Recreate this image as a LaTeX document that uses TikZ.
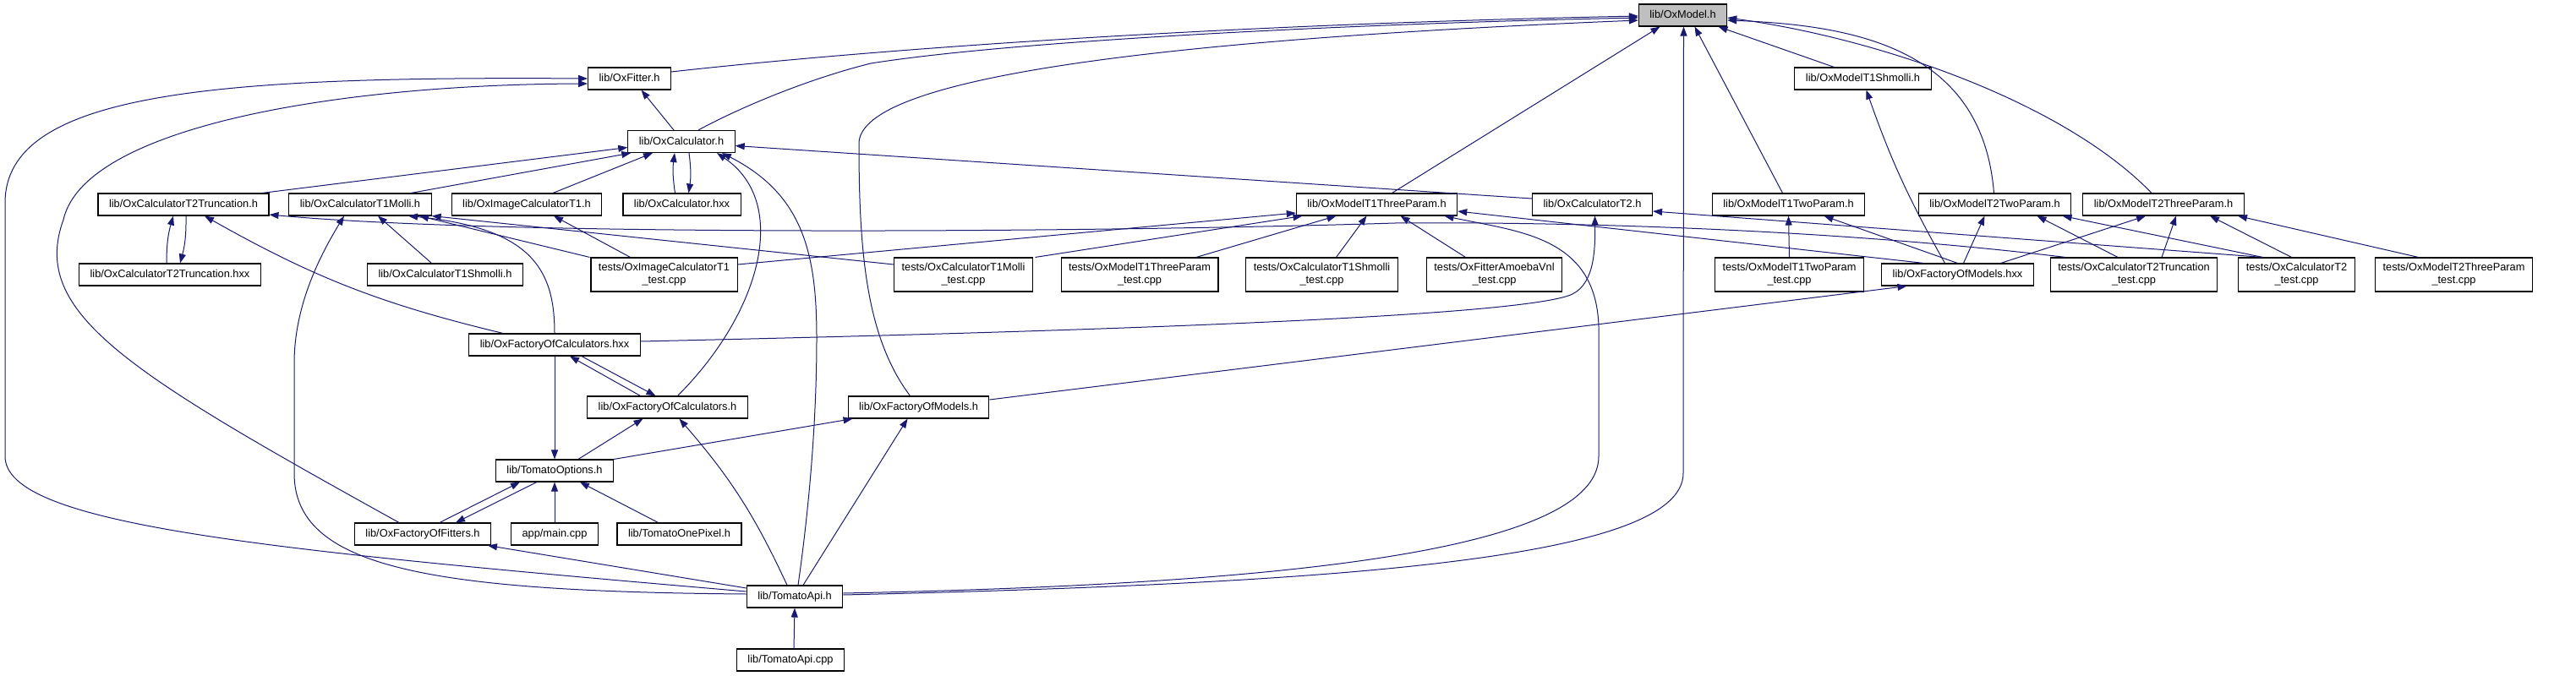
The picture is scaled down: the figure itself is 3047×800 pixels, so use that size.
\documentclass[tikz,border=0pt]{standalone}
\usepackage{fontspec}
\setmainfont{Liberation Sans}
\usetikzlibrary{arrows.meta}
\definecolor{edgeblue}{RGB}{25,25,112}
\definecolor{curgray}{RGB}{191,191,191}
\tikzset{
  filenode/.style={rectangle, draw=black, fill=white, line width=1.1pt,
    font=\fontsize{12.8}{15}\selectfont, inner xsep=13pt, inner ysep=2pt,
    minimum height=26pt, text height=9.6pt, text depth=2.6pt},
  curnode/.style={filenode, fill=curgray},
  testnode/.style={rectangle, draw=black, fill=white, line width=1.1pt,
    font=\fontsize{12.8}{15}\selectfont, align=center, inner xsep=9pt,
    inner ysep=2pt, minimum height=40pt},
  arrow/.style={-{Triangle[length=11pt,width=8pt]}, line width=1pt, color=edgeblue}
}

\begin{document}
\begin{tikzpicture}[x=1pt, y=-1pt]
  \useasboundingbox (0,0) rectangle (3047,800);
  % headers
  \node[curnode] (model) at (1990.5,18) {lib/OxModel.h};
  \node[filenode] (fitter) at (744.5,93) {lib/OxFitter.h};
  \node[filenode] (mshm) at (2203.5,93) {lib/OxModelT1Shmolli.h};
  \node[filenode] (calc) at (806,167.5) {lib/OxCalculator.h};
  \node[filenode] (ct2tr) at (217,242) {lib/OxCalculatorT2Truncation.h};
  \node[filenode] (ct1mo) at (426,242) {lib/OxCalculatorT1Molli.h};
  \node[filenode] (imgc) at (623,242) {lib/OxImageCalculatorT1.h};
  \node[filenode] (calchxx) at (806.5,242) {lib/OxCalculator.hxx};
  \node[filenode] (m1three) at (1628.5,242) {lib/OxModelT1ThreeParam.h};
  \node[filenode] (ct2) at (1883.5,242) {lib/OxCalculatorT2.h};
  \node[filenode] (m1two) at (2115.5,242) {lib/OxModelT1TwoParam.h};
  \node[filenode] (m2two) at (2359.5,242) {lib/OxModelT2TwoParam.h};
  \node[filenode] (m2three) at (2559,242) {lib/OxModelT2ThreeParam.h};
  \node[filenode] (ct2trhxx) at (201,325) {lib/OxCalculatorT2Truncation.hxx};
  \node[filenode] (ct1sh) at (526.5,325) {lib/OxCalculatorT1Shmolli.h};
  \node[filenode] (fmodhxx) at (2315.5,325) {lib/OxFactoryOfModels.hxx};
  % tests
  \node[testnode] (timgc) at (785.5,325) {tests/OxImageCalculatorT1\\\_test.cpp};
  \node[testnode] (tct1mo) at (1139.5,325) {tests/OxCalculatorT1Molli\\\_test.cpp};
  \node[testnode] (tm1three) at (1348,325) {tests/OxModelT1ThreeParam\\\_test.cpp};
  \node[testnode] (tct1sh) at (1563.5,325) {tests/OxCalculatorT1Shmolli\\\_test.cpp};
  \node[testnode] (tamoeba) at (1767.5,325) {tests/OxFitterAmoebaVnl\\\_test.cpp};
  \node[testnode] (tm1two) at (2116.5,325) {tests/OxModelT1TwoParam\\\_test.cpp};
  \node[testnode] (tct2tr) at (2524,325) {tests/OxCalculatorT2Truncation\\\_test.cpp};
  \node[testnode] (tct2) at (2716.5,325) {tests/OxCalculatorT2\\\_test.cpp};
  \node[testnode] (tm2three) at (2902.5,325) {tests/OxModelT2ThreeParam\\\_test.cpp};
  % factories and api
  \node[filenode] (fcalchxx) at (656,408) {lib/OxFactoryOfCalculators.hxx};
  \node[filenode] (fcalch) at (789.5,482) {lib/OxFactoryOfCalculators.h};
  \node[filenode] (fmodh) at (1086.5,482) {lib/OxFactoryOfModels.h};
  \node[filenode] (options) at (656,557) {lib/TomatoOptions.h};
  \node[filenode] (ffit) at (500,632) {lib/OxFactoryOfFitters.h};
  \node[filenode] (mainc) at (656,632) {app/main.cpp};
  \node[filenode] (onepix) at (803.5,632) {lib/TomatoOnePixel.h};
  \node[filenode] (api) at (940,706) {lib/TomatoApi.h};
  \node[filenode] (apicpp) at (935,781) {lib/TomatoApi.cpp};

  % into lib/OxModel.h
  \draw[arrow] ([yshift=8pt]fitter.east) .. controls (1000,62) and (1400,30) .. ([yshift=-1pt]model.west);
  \draw[arrow] ([xshift=20pt]calc.north) .. controls (870,130) and (950,95) .. (1030,75) .. controls (1200,48) and (1600,28) .. ([yshift=-3pt]model.west);
  \draw[arrow] ([xshift=-10pt]fmodh.north) .. controls (1025,400) and (1016,300) .. (1016,170) .. controls (1016,100) and (1300,50) .. ([yshift=-6pt]model.west);
  \draw[arrow] ([xshift=18pt]m1three.north) -- ([xshift=-27pt]model.south);
  \draw[arrow] ([yshift=2pt]api.east) .. controls (1600,690) and (1991,660) .. (1991,560) -- ([xshift=1pt]model.south);
  \draw[arrow] ([xshift=-7pt]m1two.north) -- ([xshift=14pt]model.south);
  \draw[arrow] ([xshift=-34pt]mshm.north) -- ([xshift=42pt]model.south);
  \draw[arrow] ([xshift=-1pt]m2two.north) .. controls (2345,60) and (2200,30) .. ([yshift=-6pt]model.east);
  \draw[arrow] ([xshift=-14pt]m2three.north) .. controls (2440,120) and (2220,45) .. ([yshift=-3pt]model.east);
  % into lib/OxFitter.h
  \draw[arrow] ([xshift=-9pt]calc.north) -- ([xshift=14pt]fitter.south);
  \draw[arrow] ([xshift=-28pt]ffit.north) .. controls (150,440) and (35,370) .. (75,260) .. controls (100,150) and (400,100) .. ([yshift=-6pt]fitter.west);
  \draw[arrow] ([yshift=6pt]api.west) .. controls (300,650) and (6,620) .. (6,540) -- (6,240) .. controls (6,110) and (250,90) .. (fitter.west);
  % into lib/OxCalculator.h
  \draw[arrow] ([xshift=93pt]ct2tr.north) -- ([yshift=-7pt]calc.west);
  \draw[arrow] ([xshift=60pt]ct1mo.north) -- ([xshift=4pt]calc.south west);
  \draw[arrow] ([xshift=31pt]imgc.north) -- ([xshift=-34pt]calc.south);
  \draw[arrow] ([xshift=-8pt]calchxx.north) to[bend left=8] ([xshift=-8pt]calc.south);
  \draw[arrow] ([yshift=7pt]ct2.west) -- ([yshift=-5pt]calc.east);
  \draw[arrow] ([xshift=12pt]fcalch.north) .. controls (900,370) and (935,240) .. ([xshift=42pt]calc.south);
  \draw[arrow] ([xshift=4pt]api.north) .. controls (960,580) and (966,480) .. (966,400) .. controls (966,300) and (950,230) .. ([xshift=48pt]calc.south);
  % into lib/OxCalculator.hxx
  \draw[arrow] ([xshift=9pt]calc.south) to[bend left=8] ([xshift=8pt]calchxx.north);
  % into lib/OxCalculatorT2Truncation.h
  \draw[arrow] ([xshift=-4pt]ct2trhxx.north) to[bend left=8] ([xshift=-12pt]ct2tr.south);
  \draw[arrow] ([xshift=-61pt]fcalchxx.north) to[bend left=8] ([xshift=25pt]ct2tr.south);
  \draw[arrow] ([xshift=-81pt]tct2tr.north) .. controls (2200,275) and (1900,262) .. (1650,264) .. controls (1300,275) and (600,280) .. ([yshift=-12pt]ct2tr.east);
  % into lib/OxCalculatorT2Truncation.hxx
  \draw[arrow] ([xshift=3pt]ct2tr.south) to[bend left=8] ([xshift=12pt]ct2trhxx.north);
  % into lib/OxCalculatorT1Molli.h
  \draw[arrow] ([yshift=3pt]api.west) .. controls (500,700) and (348,670) .. (348,560) -- (348,430) .. controls (348,360) and (380,300) .. ([xshift=-19pt]ct1mo.south);
  \draw[arrow] ([xshift=-16pt]ct1sh.north) -- ([xshift=21pt]ct1mo.south);
  \draw[arrow] (fcalchxx.north) .. controls (656,320) and (630,270) .. ([xshift=57pt]ct1mo.south);
  \draw[arrow] ([xshift=-88pt]timgc.north) -- ([xshift=70pt]ct1mo.south);
  \draw[arrow] ([yshift=12pt]tct1mo.west) -- (ct1mo.south east);
  % into lib/OxImageCalculatorT1.h
  \draw[arrow] ([xshift=-40pt]timgc.north) -- ([xshift=32pt]imgc.south);
  % into lib/OxCalculatorT2.h
  \draw[arrow] ([yshift=4pt]fcalchxx.east) .. controls (1300,392) and (1780,375) .. (1855,350) .. controls (1885,340) and (1887,300) .. ([xshift=3pt]ct2.south);
  \draw[arrow] ([xshift=-40pt]tct2.north) -- ([yshift=-8pt]ct2.east);
  % into lib/OxModelT1ThreeParam.h
  \draw[arrow] ([yshift=12pt]timgc.east) -- ([yshift=-10pt]m1three.west);
  \draw[arrow] ([xshift=85pt]tct1mo.north) -- ([xshift=-88pt]m1three.south);
  \draw[arrow] ([xshift=67pt]tm1three.north) -- ([xshift=-48pt]m1three.south);
  \draw[arrow] ([xshift=17pt]tct1sh.north) -- ([xshift=-12pt]m1three.south);
  \draw[arrow] ([xshift=-34pt]tamoeba.north) -- ([xshift=28pt]m1three.south);
  \draw[arrow] ([xshift=-40pt]fmodhxx.north) -- ([yshift=-8pt]m1three.east);
  \draw[arrow] ([yshift=4pt]api.east) .. controls (1600,690) and (1891,640) .. (1891,540) -- (1891,400) .. controls (1895,280) and (1800,275) .. ([xshift=80pt]m1three.south);
  % into lib/OxModelT1TwoParam.h
  \draw[arrow] (tm1two.north) -- (m1two.south);
  \draw[arrow] (fmodhxx.north) -- ([xshift=42pt]m1two.south);
  % into lib/OxModelT1Shmolli.h
  \draw[arrow] ([xshift=-15pt]fmodhxx.north) to[bend left=5] ([xshift=4pt]mshm.south);
  % into lib/OxModelT2TwoParam.h
  \draw[arrow] ([xshift=7pt]fmodhxx.north) -- ([xshift=-12pt]m2two.south);
  \draw[arrow] ([xshift=-19pt]tct2tr.north) -- ([xshift=50pt]m2two.south);
  \draw[arrow] ([xshift=-40pt]tct2.north) -- ([xshift=80pt]m2two.south);
  % into lib/OxModelT2ThreeParam.h
  \draw[arrow] ([xshift=51pt]fmodhxx.north) -- ([xshift=-21pt]m2three.south);
  \draw[arrow] ([xshift=33pt]tct2tr.north) -- ([xshift=15pt]m2three.south);
  \draw[arrow] ([xshift=-6pt]tct2.north) -- ([xshift=55pt]m2three.south);
  \draw[arrow] ([xshift=-42pt]tm2three.north) -- ([xshift=88pt]m2three.south);
  % factories
  \draw[arrow] ([xshift=-32pt]fcalch.north) -- ([xshift=18pt]fcalchxx.south);
  \draw[arrow] ([xshift=32pt]fcalchxx.south) -- ([xshift=-14pt]fcalch.north);
  \draw[arrow] ([xshift=28pt]options.north) -- ([xshift=-29pt]fcalch.south);
  \draw[arrow] ([xshift=-9pt]api.north) to[bend right=8] ([xshift=14pt]fcalch.south);
  \draw[arrow] (options.north east) -- ([xshift=-78pt]fmodh.south);
  \draw[arrow] ([xshift=10pt]api.north) -- ([xshift=-13pt]fmodh.south);
  \draw[arrow] ([yshift=9pt]fmodh.east) -- ([xshift=-60pt]fmodhxx.south);
  % into lib/TomatoOptions.h
  \draw[arrow] (fcalchxx.south) -- (options.north);
  \draw[arrow] ([xshift=20pt]ffit.north) -- ([xshift=-41pt]options.south);
  \draw[arrow] (mainc.north) -- (options.south);
  \draw[arrow] ([xshift=-25pt]onepix.north) -- ([xshift=30pt]options.south);
  % into lib/OxFactoryOfFitters.h
  \draw[arrow] ([xshift=-21pt]options.south) -- ([xshift=39pt]ffit.north);
  \draw[arrow] ([yshift=10pt]api.west) -- ([xshift=77pt]ffit.south);
  % into lib/TomatoApi.h
  \draw[arrow] ([xshift=4pt]apicpp.north) -- (api.south);
\end{tikzpicture}
\end{document}
